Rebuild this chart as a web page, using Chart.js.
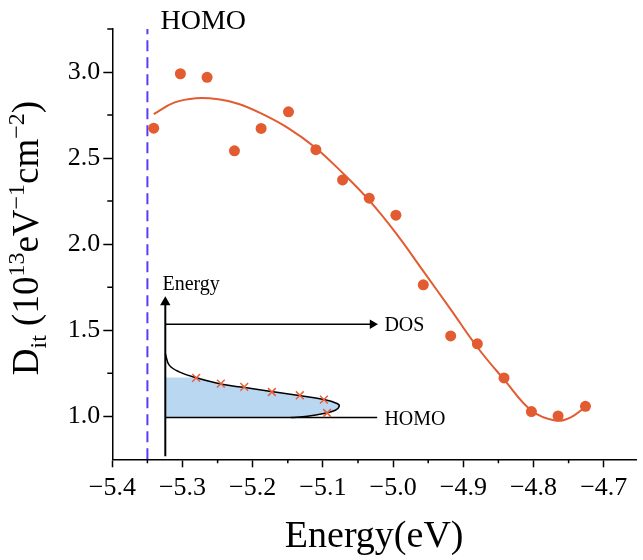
<!DOCTYPE html>
<html>
<head>
<meta charset="utf-8">
<script src="https://cdn.jsdelivr.net/npm/chart.js@4.4.1/dist/chart.umd.min.js"></script>
<style>
  body { margin: 0; background: #fff; }
  canvas { display: block; }
</style>
</head>
<body>
<canvas id="chart" width="643" height="560"></canvas>
<script>
// measured D_it points (eV, 1e13 eV^-1 cm^-2)
const energy = [-5.341, -5.303, -5.265, -5.226, -5.188, -5.149, -5.110, -5.072, -5.034,
  -4.996, -4.957, -4.918, -4.880, -4.842, -4.803, -4.765, -4.726];
const dit = [2.674, 2.990, 2.969, 2.542, 2.672, 2.769, 2.549, 2.373, 2.267,
  2.168, 1.764, 1.467, 1.421, 1.223, 1.027, 1.002, 1.058];

// fitted curve
const fitE = [-5.341, -5.312, -5.281, -5.249, -5.221, -5.188, -5.150, -5.111, -5.072, -5.034,
  -4.996, -4.958, -4.918, -4.880, -4.841, -4.803, -4.769, -4.747, -4.726];
const fitD = [2.756, 2.822, 2.848, 2.842, 2.816, 2.760, 2.676, 2.562, 2.414, 2.254,
  2.064, 1.849, 1.621, 1.401, 1.209, 1.034, 0.976, 0.994, 1.054];

// HOMO marker
const homoE = -5.35;

// inset sketch: DOS curve, filled part, crosses
const insetCurveE = [-5.3245, -5.3189, -5.3048, -5.2814, -5.2440, -5.2111, -5.1737, -5.1338,
  -5.0986, -5.0799, -5.0767, -5.0823, -5.0986, -5.1221, -5.1456];
const insetCurveD = [1.365, 1.297, 1.258, 1.225, 1.186, 1.167, 1.144, 1.121,
  1.097, 1.074, 1.058, 1.035, 1.016, 1.000, 0.9925];
const insetFillE = [-5.3245, -5.2814, -5.2440, -5.2111, -5.1737, -5.1338, -5.0986, -5.0799,
  -5.0767, -5.0823, -5.0986, -5.1221, -5.1456, -5.3245];
const insetFillD = [1.225, 1.225, 1.186, 1.167, 1.144, 1.121, 1.097, 1.074,
  1.058, 1.035, 1.016, 1.000, 0.9925, 0.9925];
const crossE = [-5.2805, -5.2454, -5.2121, -5.1727, -5.1329, -5.0986, -5.0940];
const crossD = [1.223, 1.190, 1.171, 1.141, 1.122, 1.097, 1.019];

// inset axes
const insetAxisE = -5.3245;
const insetEnergyD = [0.767, 1.663];
const dosD = 1.535;
const dosE = [-5.3245, -5.0293];
const homoLineD = 0.9925;
const homoLineE = [-5.3245, -5.0227];

// ticks
const xTicks = [-5.4, -5.3, -5.2, -5.1, -5.0, -4.9, -4.8, -4.7];
const xMinor = [-5.35, -5.25, -5.15, -5.05, -4.95, -4.85, -4.75];
const yTicks = [1.0, 1.5, 2.0, 2.5, 3.0];
const yMinor = [1.25, 1.75, 2.25, 2.75, 3.25];

const orange = "#e35b30";
const serif = "'Liberation Serif', 'Times New Roman', serif";

const pts = (xs, ys) => xs.map((x, i) => ({ x: x, y: ys[i] }));
const fmt = (v) => (v < 0 ? "\u2212" : "") + Math.abs(v).toFixed(1);

// minor ticks, annotations and the y title with sub/superscripts
const extras = {
  id: "extras",
  afterDraw(chart) {
    const c = chart.ctx;
    const xs = chart.scales.x;
    const ys = chart.scales.y;
    const px = (v) => xs.getPixelForValue(v);
    const py = (v) => ys.getPixelForValue(v);
    c.save();
    c.strokeStyle = "#000";
    c.lineWidth = 1.5;
    c.beginPath();
    xMinor.forEach((v) => {
      c.moveTo(px(v), ys.bottom);
      c.lineTo(px(v), ys.bottom + 4);
    });
    yMinor.forEach((v) => {
      c.moveTo(xs.left, py(v));
      c.lineTo(xs.left - 5, py(v));
    });
    c.stroke();

    c.fillStyle = "#000";
    c.textAlign = "left";
    c.textBaseline = "alphabetic";
    c.font = "28px " + serif;
    c.fillText("HOMO", px(-5.3314), py(3.25));
    c.font = "20px " + serif;
    c.fillText("Energy", px(-5.3286), py(1.733));
    c.textBaseline = "middle";
    c.fillText("DOS", px(-5.0124), py(1.527));
    c.fillText("HOMO", px(-5.0124), py(0.980));

    // y title
    const parts = [
      ["D", 37, 0], ["it", 24, 8], [" (10", 37, 0], ["13", 24, -14],
      ["eV", 37, 0], ["\u22121", 24, -14], ["cm", 37, 0], ["\u22122", 24, -14], [")", 37, 0],
    ];
    let total = 0;
    parts.forEach((p) => {
      c.font = p[1] + "px " + serif;
      total += c.measureText(p[0]).width;
    });
    c.translate(38, 238);
    c.rotate(-Math.PI / 2);
    c.textBaseline = "alphabetic";
    let x = -total / 2;
    parts.forEach((p) => {
      c.font = p[1] + "px " + serif;
      c.fillText(p[0], x, p[2]);
      x += c.measureText(p[0]).width;
    });
    c.restore();
  },
};

const ctx = document.getElementById("chart").getContext("2d");

new Chart(ctx, {
  type: "scatter",
  data: {
    datasets: [
      {
        data: pts(energy, dit),
        backgroundColor: orange,
        borderColor: orange,
        pointRadius: 5.5,
        borderWidth: 0,
        order: 0,
      },
      {
        data: pts(fitE, fitD),
        showLine: true,
        borderColor: orange,
        borderWidth: 2,
        pointRadius: 0,
        tension: 0.4,
        order: 1,
      },
      {
        data: pts(crossE, crossD),
        pointStyle: "crossRot",
        pointRadius: 5.5,
        borderColor: "#e8603c",
        borderWidth: 1.5,
        order: 0,
      },
      {
        data: pts(insetCurveE, insetCurveD),
        showLine: true,
        borderColor: "#000",
        borderWidth: 1.5,
        pointRadius: 0,
        tension: 0.4,
        order: 2,
      },
      {
        data: pts(insetFillE, insetFillD),
        showLine: true,
        fill: "shape",
        backgroundColor: "#b9d7f1",
        borderColor: "transparent",
        borderWidth: 0,
        pointRadius: 0,
        tension: 0,
        order: 4,
      },
      {
        // energy axis of inset
        data: [{ x: insetAxisE, y: insetEnergyD[0] }, { x: insetAxisE, y: insetEnergyD[1] }],
        showLine: true,
        borderColor: "#000",
        backgroundColor: "#000",
        borderWidth: 2,
        pointStyle: "triangle",
        pointRadius: [0, 4],
        order: 2,
      },
      {
        data: pts(dosE, [dosD, dosD]),
        showLine: true,
        borderColor: "#000",
        backgroundColor: "#000",
        borderWidth: 1.5,
        pointStyle: "triangle",
        pointRotation: 90,
        pointRadius: [0, 4],
        order: 2,
      },
      {
        data: pts(homoLineE, [homoLineD, homoLineD]),
        showLine: true,
        borderColor: "#000",
        borderWidth: 1.5,
        pointRadius: 0,
        order: 2,
      },
      {
        data: [{ x: homoE, y: 0.75 }, { x: homoE, y: 3.25 }],
        showLine: true,
        borderColor: "#5b3cf0",
        borderWidth: 2,
        borderDash: [11, 6],
        pointRadius: 0,
        order: 5,
      },
    ],
  },
  options: {
    responsive: false,
    animation: false,
    layout: { padding: { top: 29, right: -6, left: 0, bottom: 0 } },
    plugins: { legend: { display: false }, tooltip: { enabled: false } },
    scales: {
      x: {
        type: "linear",
        min: -5.4,
        max: -4.654,
        afterBuildTicks: (s) => { s.ticks = xTicks.map((v) => ({ value: v })); },
        afterFit: (s) => { s.height = 100.7; s.paddingLeft = 0; s.paddingRight = 0; },
        ticks: {
          callback: (v) => fmt(v),
          color: "#000",
          font: { family: serif, size: 26 },
          padding: 5,
          maxRotation: 0,
        },
        grid: { drawOnChartArea: false, drawTicks: true, tickLength: 8, tickColor: "#000", tickWidth: 1.5 },
        border: { color: "#000", width: 1.5 },
        title: {
          display: true,
          text: "Energy(eV)",
          color: "#000",
          font: { family: serif, size: 38 },
          padding: { top: 0, bottom: 0 },
        },
      },
      y: {
        type: "linear",
        min: 0.75,
        max: 3.25,
        afterBuildTicks: (s) => { s.ticks = yTicks.map((v) => ({ value: v })); },
        afterFit: (s) => { s.width = 112.3; s.paddingTop = 0; s.paddingBottom = 0; },
        ticks: {
          callback: (v) => v.toFixed(1),
          color: "#000",
          font: { family: serif, size: 26 },
          padding: 3,
        },
        grid: { drawOnChartArea: false, drawTicks: true, tickLength: 9, tickColor: "#000", tickWidth: 1.5 },
        border: { color: "#000", width: 1.5 },
      },
    },
  },
  plugins: [extras],
});
</script>
</body>
</html>
